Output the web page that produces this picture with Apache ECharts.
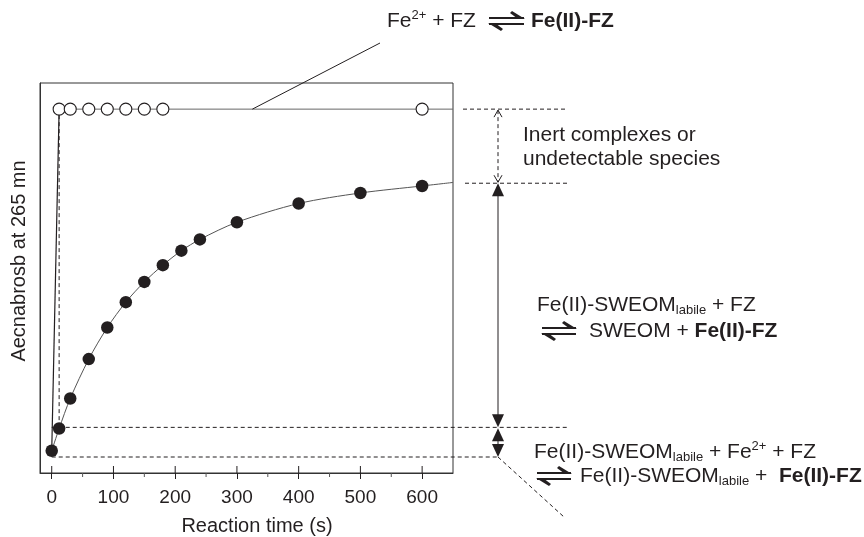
<!DOCTYPE html>
<html>
<head>
<meta charset="utf-8">
<script src="https://cdn.jsdelivr.net/npm/echarts@6/dist/echarts.min.js"></script>
<style>
  html, body { margin: 0; padding: 0; background: #fff; }
  #main { width: 864px; height: 537px; }
</style>
</head>
<body>
<div id="main"></div>
<script>
// reaction time (s) and absorbance (arbitrary units)
var timeFilled = [0, 12, 30, 60, 90, 120, 150, 180, 210, 240, 300, 400, 500, 600];
var absFilled = [0.057, 0.114, 0.191, 0.292, 0.373, 0.438, 0.490, 0.533, 0.570, 0.599, 0.643, 0.691, 0.718, 0.736];
var timeOpen = [12, 30, 60, 90, 120, 150, 180, 600];
var absOpen = [0.933, 0.933, 0.933, 0.933, 0.933, 0.933, 0.933, 0.933];
var fitEnd = [650, 0.745];
var openEnd = [650, 0.933];
// reference levels used by the dashed guide lines
var levelTotal = 0.933;
var levelLabile = 0.743;
var levelFast = 0.117;
var levelBase = 0.041;
var majorTicks = [0, 100, 200, 300, 400, 500, 600];
var minorTicks = [50, 150, 250, 350, 450, 550];

var ink = '#231f20';
var F = '"Liberation Sans", Arial, Helvetica, sans-serif';

var chart = echarts.init(document.getElementById('main'));

var filledData = timeFilled.map(function (t, i) { return [t, absFilled[i]]; });
var openData = timeOpen.map(function (t, i) { return [t, absOpen[i]]; });

var option = {
    animation: false,
    backgroundColor: '#ffffff',
    grid: {
        left: 40, right: 411, top: 83, bottom: 64,
        show: true, borderColor: '#333', borderWidth: 1, backgroundColor: 'transparent'
    },
    xAxis: {
        type: 'value', min: -19, max: 650,
        axisLine: { show: true, lineStyle: { color: '#333', width: 1 } },
        axisTick: { show: true, length: 6, customValues: majorTicks, lineStyle: { color: ink } },
        axisLabel: { customValues: majorTicks, fontSize: 19, fontFamily: F, color: ink, margin: 15 },
        splitLine: { show: false }
    },
    yAxis: {
        type: 'value', min: 0, max: 1,
        axisLine: { show: true, onZero: false, lineStyle: { color: '#333' } },
        axisTick: { show: false },
        axisLabel: { show: false },
        splitLine: { show: false }
    },
    series: [{
        // fitted curve through the filled points
        type: 'line', smooth: 0.3, symbol: 'none',
        lineStyle: { color: '#555', width: 1 },
        data: filledData.concat([fitEnd]),
        z: 2
    }, {
        // jump from t=0 to the first open point
        type: 'line', symbol: 'none',
        lineStyle: { color: ink, width: 1.2 },
        data: [filledData[0], openData[0]],
        z: 2
    }, {
        type: 'line', symbol: 'none',
        lineStyle: { color: '#666', width: 1 },
        data: openData.concat([openEnd]),
        z: 2
    }, {
        type: 'scatter', symbol: 'circle', symbolSize: 12,
        itemStyle: { color: '#fff', borderColor: ink, borderWidth: 1.1, opacity: 1 },
        data: openData,
        z: 4
    }, {
        type: 'scatter', symbol: 'circle', symbolSize: 12.5,
        itemStyle: { color: ink, opacity: 1 },
        data: filledData,
        z: 4
    }]
};
chart.setOption(option);

function px(x, y) {
    return chart.convertToPixel({ xAxisIndex: 0, yAxisIndex: 0 }, [x, y]);
}

var rich = {
    n: { fontSize: 21, fontFamily: F, lineHeight: 24, fill: ink, color: ink },
    b: { fontSize: 21, fontFamily: F, fontWeight: 'bold', lineHeight: 24, fill: ink, color: ink },
    sub: { fontSize: 13, fontFamily: F, lineHeight: 12, verticalAlign: 'bottom', fill: ink, color: ink },
    sup: { fontSize: 13, fontFamily: F, lineHeight: 12, verticalAlign: 'top', fill: ink, color: ink }
};

function txt(x, y, s) {
    return {
        type: 'text', x: x, y: y, silent: true, z: 100,
        style: {
            text: s, rich: rich, fill: ink, font: '21px ' + F,
            align: 'left', textAlign: 'left', verticalAlign: 'middle', textVerticalAlign: 'middle'
        }
    };
}

function seg(x1, y1, x2, y2, dashed, w, color) {
    return {
        type: 'line', silent: true, z: 100,
        shape: { x1: x1, y1: y1, x2: x2, y2: y2 },
        style: { stroke: color || ink, lineWidth: w || 1, lineDash: dashed ? [4, 3] : null }
    };
}

function tri(x, tipY, dir) {
    // filled arrow head, dir = -1 points up, 1 points down
    return {
        type: 'polygon', silent: true, z: 100,
        shape: { points: [[x, tipY], [x - 6, tipY - dir * 13], [x + 6, tipY - dir * 13]] },
        style: { fill: ink }
    };
}

function chevron(x, tipY, dir) {
    return {
        type: 'polyline', silent: true, z: 100,
        shape: { points: [[x - 4, tipY - dir * 7], [x, tipY], [x + 4, tipY - dir * 7]] },
        style: { stroke: ink, lineWidth: 1, fill: null }
    };
}

function harpoon(x, y, w) {
    // top half-arrow pointing right, bottom half-arrow pointing left
    return [
        seg(x, y - 3, x + w, y - 3, false, 2.2),
        {
            type: 'polygon', silent: true, z: 100,
            shape: { points: [[x + w + 1, y - 2], [x + w - 12, y - 10], [x + w - 14, y - 8], [x + w - 6, y - 2]] },
            style: { fill: ink }
        },
        seg(x, y + 3, x + w, y + 3, false, 2.2),
        {
            type: 'polygon', silent: true, z: 100,
            shape: { points: [[x - 1, y + 2], [x + 12, y + 10], [x + 14, y + 8], [x + 6, y + 2]] },
            style: { fill: ink }
        }
    ];
}

var right = px(650, 0)[0];
var x0 = px(0, 0)[0];
var yAxisY = px(0, 0)[1];
var yTot = px(0, levelTotal)[1];
var yLab = px(0, levelLabile)[1];
var yFast = px(0, levelFast)[1];
var yBase = px(0, levelBase)[1];
var xJump = px(timeOpen[0], 0)[0];
var lineStart = px(325, levelTotal);
var AX = 498;
var guideEnd = 567;

var g = [];
// inner half of the major ticks and the minor ticks
majorTicks.forEach(function (t) {
    var p = px(t, 0);
    g.push(seg(p[0], yAxisY - 7, p[0], yAxisY, false, 1));
});
minorTicks.forEach(function (t) {
    var p = px(t, 0);
    g.push(seg(p[0], yAxisY, p[0], yAxisY + 4, false, 1, '#555'));
});
// dashed guide lines
g.push(seg(xJump, yTot + 6, xJump, yFast, true));
g.push(seg(x0, yFast, guideEnd, yFast, true));
g.push(seg(x0, yBase, AX, yBase, true));
g.push(seg(right + 10, yTot, guideEnd, yTot, true));
g.push(seg(right + 12, yLab, guideEnd, yLab, true));
// arrows
g.push(seg(AX, yTot + 1, AX, yLab - 1, true));
g.push(chevron(AX, yTot + 1, -1));
g.push(chevron(AX, yLab - 1, 1));
g.push(seg(AX, yLab + 6, AX, yFast - 6, false));
g.push(tri(AX, yLab, -1));
g.push(tri(AX, yFast, 1));
g.push(seg(AX, yFast + 6, AX, yBase - 6, false));
g.push(tri(AX, yFast + 1, -1));
g.push(tri(AX, yBase, 1));
g.push(seg(AX, yBase, 564, 517, true));
g.push(seg(lineStart[0], lineStart[1], 380, 43, false));

// reaction labels
g.push(txt(387, 21, '{n|Fe}{sup|2+}{n| + FZ}'));
g = g.concat(harpoon(489, 21, 35));
g.push(txt(531, 21, '{b|Fe(II)-FZ}'));

g.push(txt(523, 135, '{n|Inert complexes or}'));
g.push(txt(523, 159, '{n|undetectable species}'));

g.push(txt(537, 305, '{n|Fe(II)-SWEOM}{sub|labile}{n| + FZ}'));
g = g.concat(harpoon(542, 331, 34));
g.push(txt(589, 331, '{n|SWEOM + }{b|Fe(II)-FZ}'));

g.push(txt(534, 452, '{n|Fe(II)-SWEOM}{sub|labile}{n| + Fe}{sup|2+}{n| + FZ}'));
g = g.concat(harpoon(537, 476, 34));
g.push(txt(580, 476, '{n|Fe(II)-SWEOM}{sub|labile}{n| +  }{b|Fe(II)-FZ}'));

// axis titles
g.push({
    type: 'text', x: 19, y: 261, rotation: Math.PI / 2, silent: true, z: 100,
    style: {
        text: 'Aecnabrosb at 265 mn', fill: ink, font: '20px ' + F,
        align: 'center', textAlign: 'center', verticalAlign: 'middle', textVerticalAlign: 'middle'
    }
});
g.push({
    type: 'text', x: 257, y: 526, silent: true, z: 100,
    style: {
        text: 'Reaction time (s)', fill: ink, font: '20px ' + F,
        align: 'center', textAlign: 'center', verticalAlign: 'middle', textVerticalAlign: 'middle'
    }
});

chart.setOption({ graphic: g });
</script>
</body>
</html>
